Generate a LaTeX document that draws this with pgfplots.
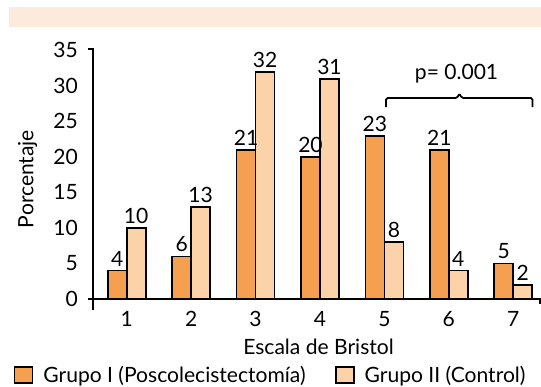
\documentclass[border=0pt]{standalone}
\usepackage{pgfplots}
\pgfplotsset{compat=1.18}
\usepackage{fontspec}
\setmainfont{Lato}
\definecolor{gI}{RGB}{244,160,80}
\definecolor{gII}{RGB}{252,210,168}
\definecolor{band}{RGB}{252,235,220}
\newcommand{\ff}{\fontsize{15.8pt}{18pt}\selectfont}
\begin{document}
\begin{tikzpicture}
\useasboundingbox (0,0) rectangle (405.75pt,289.5pt);
\fill[band] (6.45pt,269.6pt) rectangle (405.75pt,284.25pt);
\begin{axis}[
  at={(69.75pt,65.25pt)}, anchor=south west,
  scale only axis, width=335.25pt, height=187.5pt,
  xmin=0.477, xmax=7.415, ymin=0, ymax=35.2,
  clip=false,
  axis line style={draw=none},
  major tick length=0pt,
  xtick={1,...,7}, ytick={0,5,...,35},
  /pgf/number format/assume math mode=true,
  tick label style={font=\ff},
  xticklabel style={anchor=base, inner sep=0pt, yshift=-20.8pt},
  yticklabel style={anchor=east, inner sep=0pt, xshift=-11.25pt},
  xlabel={Escala de Bristol},
  ylabel={Porcentaje},
  label style={font=\ff},
  xlabel style={at={(axis description cs:0.5045,-0.22)}, anchor=base},
  ylabel style={at={(axis description cs:-0.1465,0.48)}, anchor=center, rotate=0},
  ybar, bar width=14.25pt,
  nodes near coords,
  nodes near coords style={font=\ff, anchor=south, inner sep=2.6pt},
  legend columns=2,
  legend style={draw=none, fill=none, font=\ff, at={(-0.178,-0.304)}, anchor=west,
    inner sep=0pt, /tikz/every even column/.append style={column sep=20pt}},
  legend image code/.code={\draw[#1, line width=1.2pt] (0pt,-6.2pt) rectangle (13.5pt,6.2pt); \path (19pt,0pt);},
]
\addplot[fill=gI, draw=black, line width=1.3pt, bar shift=-7.125pt]
  coordinates {(1,4) (2,6) (3,21) (4,20) (5,23) (6,21) (7,5)};
\addplot[fill=gII, draw=black, line width=1.3pt, bar shift=7.125pt]
  coordinates {(1,10) (2,13) (3,32) (4,31) (5,8) (6,4) (7,2)};
\legend{Grupo I (Poscolecistectomía), Grupo II (Control)}
\draw[line width=1.3pt] (axis cs:0.399,35.2) -- (axis cs:0.477,35.2) -- (axis cs:0.477,-1.54);
\draw[line width=1.3pt] (axis cs:0.399,0) -- (axis cs:7.415,0) -- (axis cs:7.415,-0.7);
\draw[line width=1.3pt, rounded corners=1.2pt] (axis cs:5.026,27.0) -- (axis cs:5.026,28.3) -- (axis cs:6.13,28.3) -- (axis cs:6.165,28.95) -- (axis cs:6.2,28.3) -- (axis cs:7.298,28.3) -- (axis cs:7.298,27.0);
\node[font=\ff, anchor=base, inner sep=0pt] at (axis cs:6.12,30.94) {p= 0.001};
\end{axis}
\end{tikzpicture}
\end{document}
